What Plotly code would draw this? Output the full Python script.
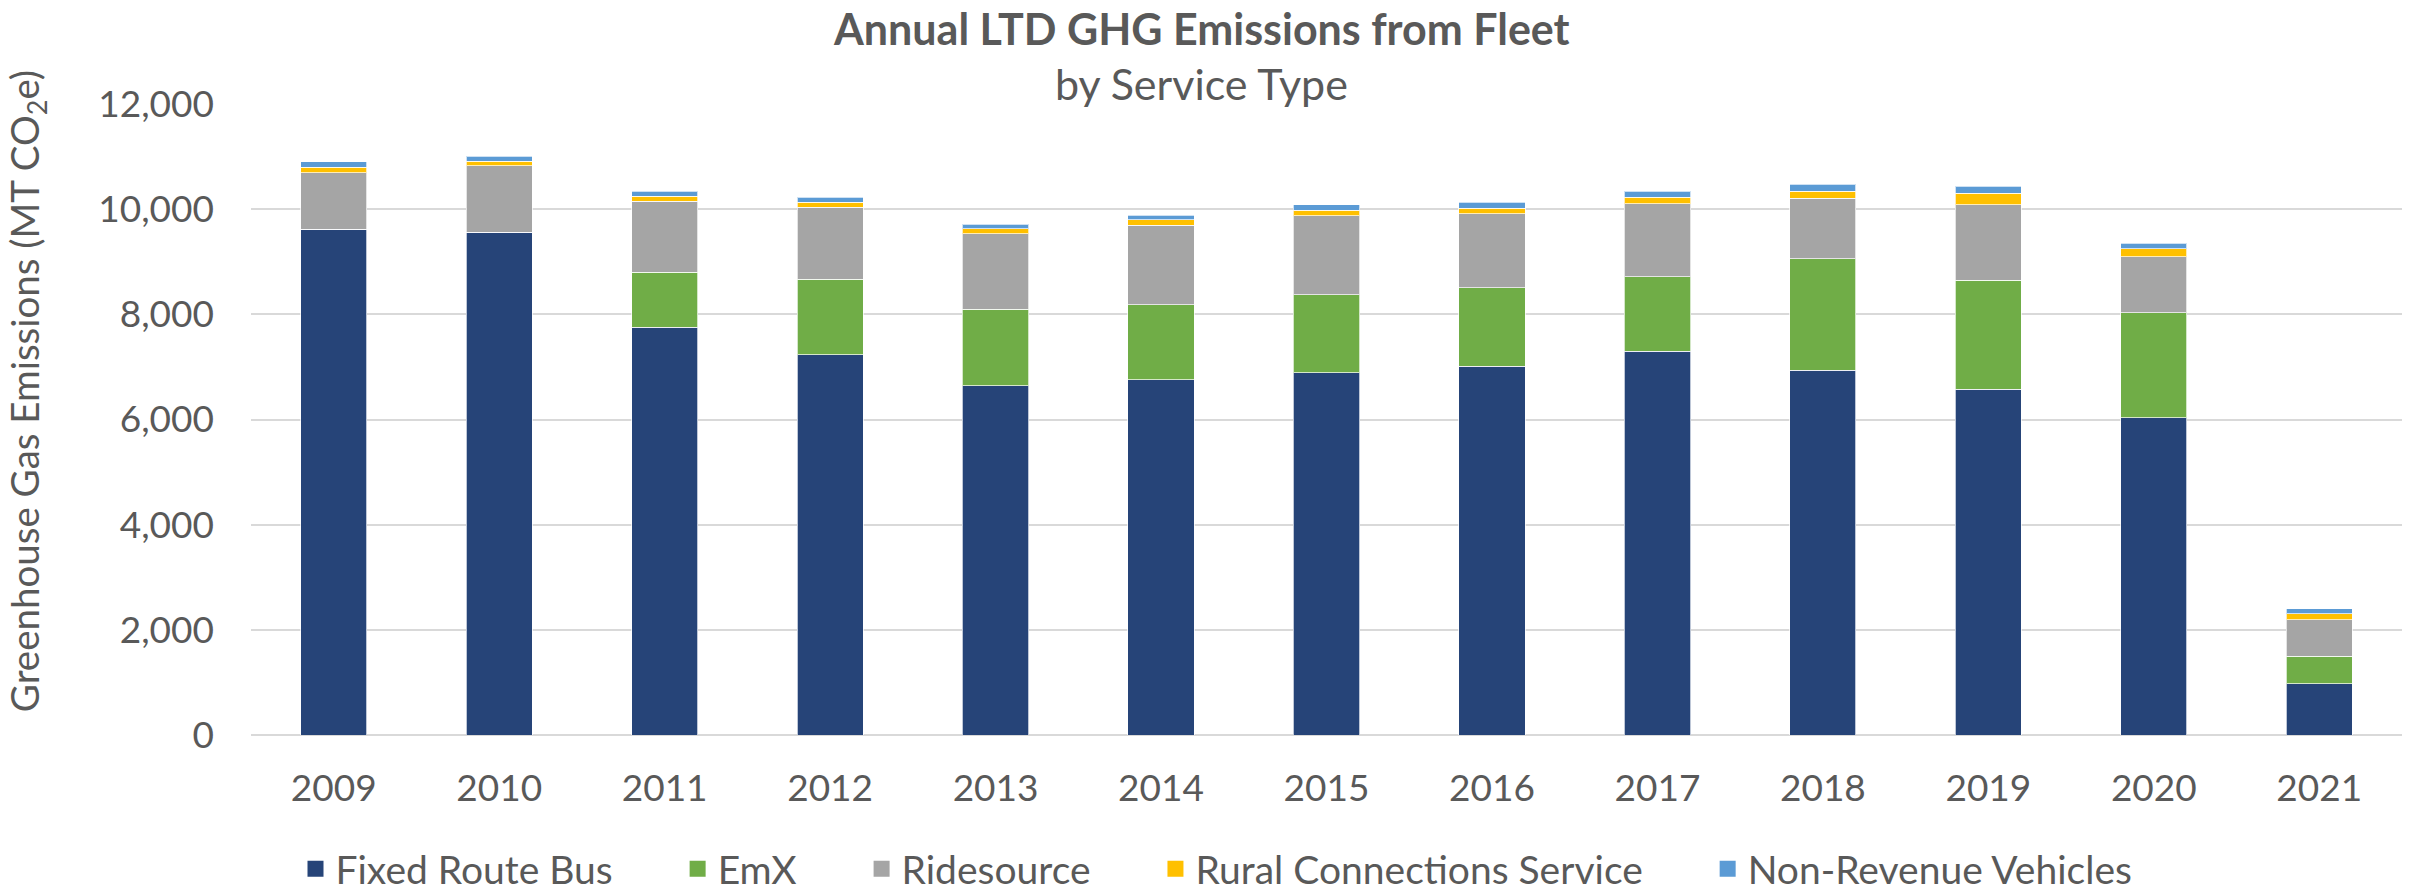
import plotly.graph_objects as go

years = ["2009", "2010", "2011", "2012", "2013", "2014", "2015",
         "2016", "2017", "2018", "2019", "2020", "2021"]
fixed_route_bus = [9617, 9560, 7754, 7233, 6644, 6756, 6889, 7016, 7302, 6940, 6572, 6034, 977]
emx = [0, 0, 1046, 1439, 1452, 1428, 1479, 1486, 1415, 2114, 2081, 1994, 525]
ridesource = [1076, 1266, 1349, 1369, 1438, 1511, 1505, 1415, 1385, 1156, 1434, 1068, 690]
rural_connections = [108, 90, 101, 95, 95, 102, 108, 96, 127, 133, 218, 147, 110]
non_revenue = [101, 95, 90, 89, 89, 89, 102, 114, 114, 127, 130, 108, 95]

series_names = ["Fixed Route Bus", "EmX", "Ridesource", "Rural Connections Service", "Non-Revenue Vehicles"]
series_values = [fixed_route_bus, emx, ridesource, rural_connections, non_revenue]
series_colors = ["#264478", "#70AD47", "#A5A5A5", "#FFC000", "#5B9BD5"]

FONT = "Lato"
TXT = "#595959"
PAD = "\u00a0" * 6

fig = go.Figure()
for name, vals, col in zip(series_names, series_values, series_colors):
    fig.add_trace(go.Bar(
        x=years, y=vals, name=name, showlegend=False, legendgroup=name,
        marker=dict(color=col, line=dict(color="rgba(255,255,255,0.7)", width=1)),
    ))

# legend entries (square swatches)
for i, (name, col) in enumerate(zip(series_names, series_colors)):
    label = name + (PAD if i < len(series_names) - 1 else "")
    fig.add_trace(go.Scatter(
        x=[None], y=[None], mode="markers", name=label, legendgroup=name,
        marker=dict(symbol="square", size=16, color=col), hoverinfo="skip",
    ))

fig.update_layout(
    width=2433, height=893,
    barmode="stack", bargap=0.6,
    plot_bgcolor="white", paper_bgcolor="white",
    margin=dict(l=251, r=31, t=104, b=158),
    font=dict(family=FONT, size=37, color=TXT),
    showlegend=True,
    legend=dict(orientation="h", xref="container", yref="container",
                x=0.5, xanchor="center", y=0.027, yanchor="middle",
                font=dict(family=FONT, size=39, color=TXT),
                itemsizing="trace", traceorder="normal"),
    xaxis=dict(type="category", showgrid=False, showline=False, zeroline=False,
               ticks="", ticklabelstandoff=28,
               tickfont=dict(family=FONT, size=37, color=TXT)),
    yaxis=dict(range=[0, 12000], dtick=2000, tickformat=",", showgrid=True,
               gridcolor="#D9D9D9", gridwidth=2, zeroline=True,
               zerolinecolor="#D9D9D9", zerolinewidth=2, showline=False,
               ticks="", ticklabelstandoff=36,
               tickfont=dict(family=FONT, size=37, color=TXT)),
    annotations=[
        dict(text="<b>Annual LTD GHG Emissions from Fleet</b>", xref="paper", yref="paper",
             x=0.4417, y=1.1204, xanchor="center", yanchor="middle", showarrow=False,
             font=dict(family=FONT, size=43, color=TXT)),
        dict(text="by Service Type", xref="paper", yref="paper",
             x=0.4417, y=1.033, xanchor="center", yanchor="middle", showarrow=False,
             font=dict(family=FONT, size=43, color=TXT)),
        dict(text="Greenhouse Gas Emissions (MT CO<sub>2</sub>e)", xref="paper", yref="paper",
             x=-0.1041, y=0.545, xanchor="center", yanchor="middle", textangle=-90,
             showarrow=False, font=dict(family=FONT, size=38.5, color=TXT)),
    ],
)

fig.write_html("out.html", config={"displayModeBar": False},
               post_script="document.body.style.margin='0px';")
